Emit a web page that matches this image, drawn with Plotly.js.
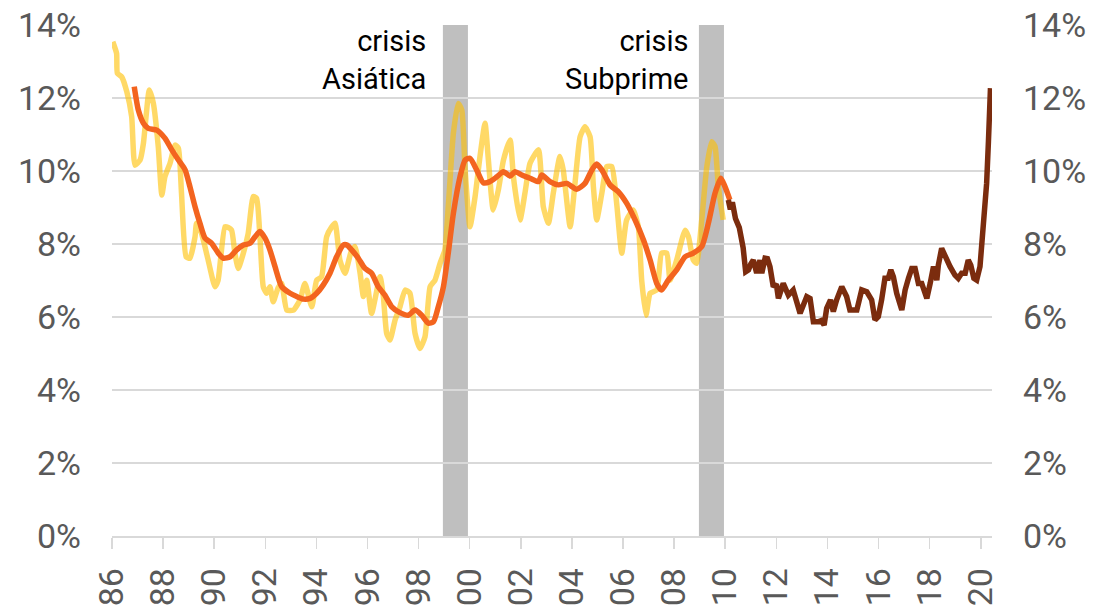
<!DOCTYPE html>
<html>
<head>
<meta charset="utf-8">
<script src="https://cdn.plot.ly/plotly-3.0.1.min.js"></script>
<style>
  html, body { margin: 0; padding: 0; background: #ffffff; }
  #chart { width: 1097px; height: 606px; }
</style>
</head>
<body>
<div id="chart"></div>
<script>
// ---- Data (decimal years, unemployment rate in %) ----
const seasonalYears = [1986.03,1986.18,1986.21,1986.38,1986.58,1986.77,1986.9,1987.1,1987.23,1987.46,1987.62,1987.81,1987.95,1988.07,1988.27,1988.47,1988.6,1988.72,1988.9,1989.05,1989.25,1989.31,1989.5,1989.75,1990.03,1990.15,1990.42,1990.55,1990.68,1990.81,1990.94,1991.14,1991.33,1991.53,1991.66,1991.79,1991.92,1992.05,1992.18,1992.31,1992.5,1992.64,1992.84,1993.1,1993.36,1993.55,1993.82,1994.01,1994.2,1994.4,1994.6,1994.73,1994.92,1995.12,1995.38,1995.51,1995.71,1995.84,1995.97,1996.16,1996.49,1996.62,1996.75,1996.88,1997.08,1997.27,1997.47,1997.66,1997.86,1998.05,1998.25,1998.45,1998.64,1998.84,1999.03,1999.16,1999.36,1999.55,1999.69,1999.82,2000.01,2000.21,2000.4,2000.6,2000.73,2000.92,2001.12,2001.32,2001.58,2001.71,2001.97,2002.16,2002.36,2002.69,2002.88,2003.08,2003.27,2003.53,2003.66,2003.93,2004.12,2004.32,2004.51,2004.71,2004.84,2004.97,2005.17,2005.36,2005.56,2005.75,2005.95,2006.14,2006.4,2006.6,2006.73,2006.9,2007.06,2007.32,2007.51,2007.71,2007.84,2008.1,2008.43,2008.56,2008.75,2008.88,2009.08,2009.28,2009.47,2009.6,2009.73,2009.92];
const seasonalRate = [13.54,13.22,12.68,12.58,12.17,11.49,10.16,10.30,10.76,12.22,11.85,10.67,9.34,9.84,10.21,10.71,10.62,9.39,7.65,7.61,8.2,8.57,8.3,7.6,6.83,7.0,8.47,8.45,8.38,7.75,7.33,7.75,8.29,9.30,9.25,8.2,6.83,6.65,6.83,6.42,6.8,6.92,6.19,6.19,6.47,6.92,6.28,7.01,7.1,8.2,8.47,8.57,7.56,7.2,7.84,7.93,7.2,6.56,7.01,6.1,7.1,6.56,5.55,5.37,5.92,6.28,6.74,6.65,5.55,5.14,5.46,6.83,7.01,7.47,7.84,9.02,11.03,11.85,11.67,10.03,8.47,9.30,10.39,11.31,10.3,8.93,9.48,10.3,10.85,9.84,8.66,9.39,10.21,10.58,9.02,8.57,9.39,10.4,10.03,8.47,9.66,10.94,11.21,10.94,9.57,8.66,9.39,10.12,10.12,9.12,7.75,8.66,8.93,8.47,7.01,6.05,6.65,6.74,7.75,7.75,7.01,7.56,8.38,8.2,7.56,7.47,8.66,10.12,10.8,10.67,9.57,8.66];

const trendYears = [1986.87,1987.03,1987.23,1987.42,1987.75,1988.07,1988.34,1988.6,1988.86,1989.05,1989.25,1989.44,1989.64,1989.9,1990.16,1990.36,1990.62,1990.88,1991.14,1991.4,1991.6,1991.79,1991.99,1992.18,1992.38,1992.64,1992.97,1993.23,1993.49,1993.75,1994.01,1994.27,1994.53,1994.79,1995.05,1995.2,1995.38,1995.64,1995.9,1996.16,1996.42,1996.68,1996.95,1997.27,1997.6,1997.86,1998.12,1998.38,1998.58,1998.77,1998.97,1999.16,1999.36,1999.62,1999.82,2000.01,2000.27,2000.53,2000.79,2001.06,2001.32,2001.58,2001.77,2002.04,2002.36,2002.69,2002.82,2003.14,2003.47,2003.8,2004.19,2004.51,2004.78,2004.97,2005.17,2005.49,2005.82,2006.14,2006.47,2006.8,2007.06,2007.32,2007.51,2007.77,2008.1,2008.43,2008.75,2009.08,2009.34,2009.6,2009.83,2009.99,2010.18];
const trendRate = [12.31,11.67,11.31,11.17,11.12,10.9,10.58,10.3,10.03,9.57,9.02,8.57,8.16,8.02,7.75,7.61,7.65,7.84,7.97,8.02,8.2,8.34,8.16,7.84,7.38,6.83,6.65,6.56,6.49,6.51,6.65,6.88,7.2,7.65,7.97,7.97,7.84,7.61,7.33,7.2,6.83,6.6,6.28,6.12,6.05,6.19,6.05,5.83,5.87,6.28,6.83,7.75,8.84,9.84,10.3,10.35,10.03,9.68,9.71,9.84,9.98,9.86,9.98,9.89,9.8,9.71,9.89,9.71,9.62,9.66,9.5,9.66,10.03,10.19,10.03,9.62,9.43,9.12,8.66,8.11,7.56,6.92,6.74,7.01,7.29,7.65,7.75,7.93,8.57,9.39,9.8,9.57,9.21];

const recentYears = [2010.12,2010.2,2010.28,2010.4,2010.55,2010.7,2010.8,2010.91,2011.0,2011.1,2011.23,2011.36,2011.43,2011.56,2011.65,2011.75,2011.88,2012.0,2012.08,2012.27,2012.47,2012.66,2012.93,2013.19,2013.32,2013.45,2013.64,2013.75,2013.87,2013.97,2014.12,2014.23,2014.36,2014.56,2014.75,2014.88,2015.15,2015.34,2015.54,2015.73,2015.86,2015.99,2016.12,2016.25,2016.38,2016.48,2016.58,2016.71,2016.91,2017.04,2017.17,2017.3,2017.43,2017.56,2017.69,2017.89,2018.02,2018.15,2018.28,2018.34,2018.47,2018.67,2018.8,2018.99,2019.12,2019.25,2019.39,2019.51,2019.61,2019.73,2019.84,2019.97,2020.1,2020.23,2020.3,2020.38];
const recentRate = [9.21,8.95,9.14,8.7,8.45,7.9,7.24,7.29,7.45,7.56,7.2,7.56,7.2,7.61,7.6,7.38,6.83,6.9,6.51,6.92,6.6,6.74,6.1,6.56,6.51,5.87,5.87,5.9,5.78,6.24,6.47,6.15,6.47,6.83,6.56,6.19,6.19,6.74,6.69,6.47,5.92,6.01,6.47,7.06,7.06,7.29,7.1,6.65,6.19,6.74,7.06,7.33,7.33,6.92,6.92,6.51,6.92,7.38,7.01,7.42,7.88,7.56,7.38,7.15,7.06,7.2,7.2,7.56,7.42,7.06,7.01,7.38,8.47,9.66,10.8,12.27];

const crisisStart = [1998.95, 2008.97];
const crisisEnd = [1999.93, 2009.95];
const crisisLabels = ['crisis<br>Asiática', 'crisis<br>Subprime'];
const crisisLabelX = [1998.36, 2008.62];

const tickYears = [1986,1988,1990,1992,1994,1996,1998,2000,2002,2004,2006,2008,2010,2012,2014,2016,2018,2020];
const tickLabels = ['86','88','90','92','94','96','98','00','02','04','06','08','10','12','14','16','18','20'];
const yTicks = [0,2,4,6,8,10,12,14];
const yTickLabels = ['0%','2%','4%','6%','8%','10%','12%','14%'];

// ---- Plot ----
const traces = [
  { x: seasonalYears, y: seasonalRate, type: 'scatter', mode: 'lines',
    line: { color: 'rgba(255,192,0,0.6)', width: 5.5, shape: 'spline', smoothing: 0.5 },
    hoverinfo: 'skip', showlegend: false },
  { x: trendYears, y: trendRate, type: 'scatter', mode: 'lines',
    line: { color: '#F3641F', width: 5.5, shape: 'spline', smoothing: 0.6 },
    hoverinfo: 'skip', showlegend: false },
  { x: recentYears, y: recentRate, type: 'scatter', mode: 'lines',
    line: { color: '#7B2C0E', width: 5.5 },
    hoverinfo: 'skip', showlegend: false },
  { x: [tickYears[0]], y: [0], yaxis: 'y2', type: 'scatter', mode: 'markers',
    marker: { opacity: 0 }, hoverinfo: 'skip', showlegend: false }
];

const shapes = crisisStart.map((s, i) => ({
  type: 'rect', xref: 'x', yref: 'paper', x0: s, x1: crisisEnd[i], y0: 0, y1: 1,
  fillcolor: '#BFBFBF', line: { width: 0 }, layer: 'below'
}));

const annotations = crisisLabels.map((t, i) => ({
  text: t, x: crisisLabelX[i], y: 13.05, xref: 'x', yref: 'y',
  xanchor: 'right', yanchor: 'middle', align: 'right', showarrow: false,
  font: { family: 'Roboto, sans-serif', size: 29, color: '#000000' }
}));

const tickFont = { family: 'Roboto, sans-serif', size: 34, color: '#595959' };

const layout = {
  width: 1097, height: 606,
  margin: { l: 112, r: 105, t: 25, b: 70, pad: 0 },
  paper_bgcolor: '#ffffff', plot_bgcolor: '#ffffff',
  showlegend: false,
  xaxis: {
    range: [1986, 2020.44], tickmode: 'array', tickvals: tickYears, ticktext: tickLabels,
    tickangle: -90, tickfont: tickFont, ticks: 'outside', ticklen: 11, tickwidth: 1.5,
    tickcolor: '#D9D9D9', showline: true, linecolor: '#D9D9D9', linewidth: 1.5,
    showgrid: false, zeroline: false, ticklabelstandoff: 6, fixedrange: true
  },
  yaxis: {
    range: [0, 14], tickmode: 'array', tickvals: yTicks, ticktext: yTickLabels,
    tickfont: tickFont, showgrid: true, gridcolor: '#D9D9D9', gridwidth: 1.5,
    zeroline: false, showline: false, ticks: '', ticklabelstandoff: 30, fixedrange: true
  },
  yaxis2: {
    range: [0, 14], overlaying: 'y', side: 'right', tickmode: 'array', tickvals: yTicks,
    ticktext: yTickLabels, tickfont: tickFont, showgrid: false, zeroline: false, showline: false,
    ticks: '', ticklabelstandoff: 30, fixedrange: true
  },
  shapes: shapes,
  annotations: annotations
};

Plotly.newPlot('chart', traces, layout, { staticPlot: true, displayModeBar: false });
</script>
</body>
</html>
